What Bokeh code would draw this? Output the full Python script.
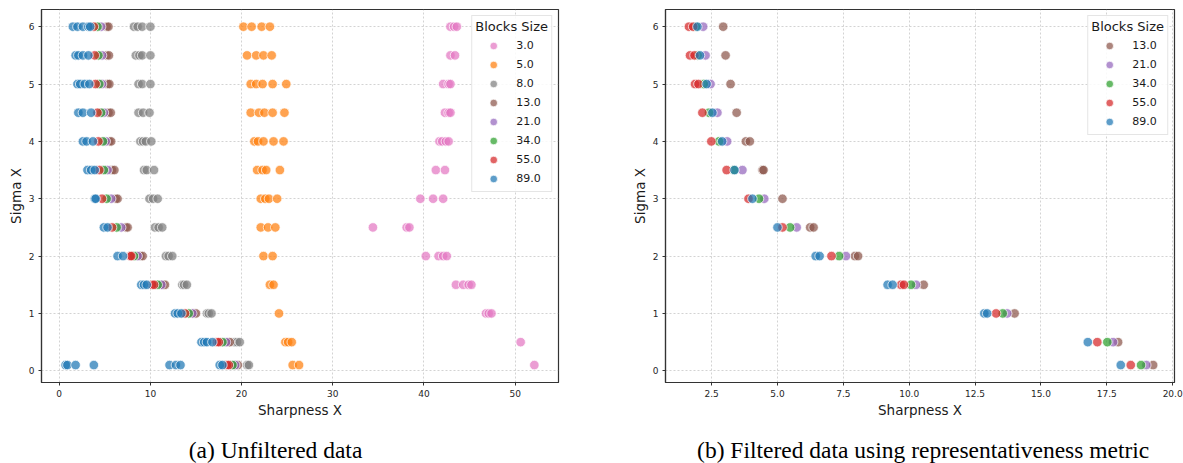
from bokeh.plotting import figure
from bokeh.models import (Range1d, FixedTicker, Legend, LegendItem, Label,
                          NumeralTickFormatter, ColumnDataSource)
from bokeh.layouts import row, column
from bokeh.embed import file_html
from bokeh.resources import INLINE

# ---------------- data ----------------
SIGMA = [0.1, 0.5, 1.0, 1.5, 2.0, 2.5, 3.0, 3.5, 4.0, 4.5, 5.0, 5.5, 6.0]

# (a) Unfiltered data: Sharpness X values for each Sigma X level (order of SIGMA)
UNF_3 = [[52.1], [50.6], [46.8, 47.1, 47.4], [43.5, 44.3, 44.9, 45.2],
         [40.2, 41.6, 42.1, 42.5], [34.4, 38.1, 38.4], [39.6, 41.0, 42.1],
         [41.3, 42.3], [41.7, 42.0, 42.4, 42.7], [42.3, 42.7, 42.9],
         [42.1, 42.7, 42.9], [42.9, 43.4], [42.9, 43.3, 43.6]]
UNF_5 = [[25.6, 26.3], [24.8, 25.1, 25.5], [24.1], [23.1, 23.5], [22.4, 23.4],
         [22.1, 22.9, 23.7], [22.1, 22.6, 23.0, 23.9], [21.7, 22.3, 22.7, 24.2],
         [21.4, 21.8, 22.4, 23.5, 24.6], [21.0, 21.9, 22.5, 23.4, 24.7],
         [21.0, 21.6, 22.3, 23.4, 24.9], [20.6, 21.6, 22.4, 23.3],
         [20.2, 21.1, 22.2, 23.1]]
UNF_8 = [[20.6, 20.8], [19.2, 19.5, 19.8], [16.2, 16.4, 16.7], [13.5, 13.7, 14.0],
         [11.7, 12.0, 12.4], [10.5, 10.9, 11.3], [9.9, 10.3, 10.8], [9.3, 9.6, 10.4],
         [8.9, 9.2, 9.5, 10.1], [8.7, 9.2, 9.9], [8.7, 9.1, 10.0],
         [8.4, 8.8, 9.1, 10.0], [8.2, 8.6, 9.1, 10.0]]
UNF_13 = [[19.3, 19.6], [18.5, 18.7], [14.8, 15.0], [11.4, 11.6], [8.9, 9.15],
          [7.3, 7.5], [6.2, 6.4], [5.8, 6.05], [5.5, 5.7], [5.4, 5.65],
          [5.3, 5.5], [5.2, 5.45], [5.2, 5.4]]
UNF_21 = [[19.3], [18.3], [14.6], [11.2], [8.6], [6.8], [5.7], [5.3], [5.1],
          [4.9], [4.7], [4.7], [4.6]]
UNF_34 = [[19.0], [17.9], [14.2], [10.8], [8.2], [6.3], [5.2], [4.9], [4.8],
          [4.6], [4.4], [4.3], [4.2]]
UNF_55 = [[18.4, 18.6], [17.3, 17.5], [13.8], [10.2, 10.4], [7.8, 7.9], [5.8],
          [4.7], [4.4], [4.3], [4.2], [4.0], [3.9], [3.8]]
UNF_89 = [[0.7, 0.9, 1.8, 3.8, 12.1, 12.8, 13.3, 17.6, 17.9],
          [15.6, 15.9, 16.2, 16.8], [12.7, 13.0, 13.4], [9.0, 9.3, 9.6],
          [6.4, 7.0], [4.9, 5.3], [3.9, 4.0], [3.1, 3.5, 3.9], [2.6, 3.0, 3.7],
          [2.1, 2.6, 3.5], [2.0, 2.3, 2.8, 3.3], [1.8, 2.1, 2.6, 3.2],
          [1.5, 2.0, 2.6, 3.2, 3.4]]

# (b) Filtered data using representativeness metric
FIL_13 = [[19.26], [17.93], [14.0], [10.55], [7.94, 8.06], [6.24, 6.37], [5.19],
          [4.43, 4.47], [3.8, 3.95], [3.45], [3.22], [3.03], [2.94]]
FIL_21 = [[19.0], [17.74], [13.72], [10.26], [7.6], [5.73], [4.5], [3.67], [3.09],
          [2.72], [2.46], [2.27], [2.18]]
FIL_34 = [[18.8], [17.52], [13.55], [10.07], [7.34], [5.48], [4.3], [3.35], [2.78],
          [2.4], [2.2], [1.97], [1.9]]
FIL_55 = [[18.41], [17.14], [13.3], [9.69, 9.8], [7.05], [5.19], [3.9], [3.07],
          [2.49], [2.15], [1.87, 2.0], [1.68, 1.85], [1.64, 1.80]]
FIL_89 = [[18.03], [16.78], [12.85, 12.96], [9.18, 9.37], [6.45, 6.6], [5.0],
          [4.05], [3.37], [2.9], [2.53], [2.31], [2.06], [1.96]]

X_TICKS_A = [0, 10, 20, 30, 40, 50]
X_TICKS_B = [2.5, 5.0, 7.5, 10.0, 12.5, 15.0, 17.5, 20.0]
Y_TICKS = [0, 1, 2, 3, 4, 5, 6]

CAPTION_A = "(a) Unfiltered data"
CAPTION_B = "(b) Filtered data using representativeness metric"

COLORS = {3: "#e377c2", 5: "#ff7f0e", 8: "#7f7f7f", 13: "#8c564b",
          21: "#9467bd", 34: "#2ca02c", 55: "#d62728", 89: "#1f77b4"}

FONT = "DejaVu Sans"


def flatten(rows):
    xs, ys = [], []
    for s, vals in zip(SIGMA, rows):
        for v in vals:
            xs.append(v)
            ys.append(s)
    return xs, ys


def make_panel(width, border_left, border_right, x_range, x_ticks, groups,
               draw_order, legend_order, fmt=None):
    p = figure(width=width, height=420, output_backend="svg",
               toolbar_location=None, x_range=Range1d(*x_range),
               y_range=Range1d(-0.204, 6.30),
               min_border_left=border_left, min_border_right=border_right,
               min_border_top=9, min_border_bottom=38)
    p.background_fill_color = "white"
    p.border_fill_color = "white"
    p.outline_line_color = "#333333"
    p.outline_line_width = 1.2

    for ax in (p.xaxis[0], p.yaxis[0]):
        ax.axis_line_color = "#333333"
        ax.axis_line_width = 1.2
        ax.major_tick_line_color = "#333333"
        ax.major_tick_out = 3
        ax.major_tick_in = 0
        ax.minor_tick_line_color = None
        ax.major_label_text_font = FONT
        ax.major_label_text_font_size = "9px"
        ax.major_label_text_color = "#262626"
        ax.major_label_standoff = 4
        ax.axis_label_text_font = FONT
        ax.axis_label_text_font_size = "13.5px"
        ax.axis_label_text_font_style = "normal"
        ax.axis_label_text_color = "#1a1a1a"
        ax.axis_label_standoff = 2

    p.xaxis.axis_label = "Sharpness X"
    p.yaxis.axis_label = "Sigma X"
    p.xaxis.ticker = FixedTicker(ticks=x_ticks)
    p.yaxis.ticker = FixedTicker(ticks=Y_TICKS)
    if fmt:
        p.xaxis.formatter = NumeralTickFormatter(format=fmt)

    for g in (p.xgrid[0], p.ygrid[0]):
        g.grid_line_color = "#b0b0b0"
        g.grid_line_alpha = 0.7
        g.grid_line_dash = "2 2"
        g.grid_line_width = 0.8
    p.xgrid.ticker = FixedTicker(ticks=x_ticks)
    p.ygrid.ticker = FixedTicker(ticks=Y_TICKS)

    rends = {}
    for bs in draw_order:
        xs, ys = flatten(groups[bs])
        src = ColumnDataSource(dict(x=xs, y=ys))
        rends[bs] = p.scatter("x", "y", source=src, marker="circle", size=9.5,
                              fill_color=COLORS[bs], fill_alpha=0.72,
                              line_color="white", line_width=0.8, line_alpha=0.9)

    items = [LegendItem(label=f"{float(bs):.1f}", renderers=[rends[bs]])
             for bs in legend_order]
    leg = Legend(items=items, location="top_right", margin=6, padding=3,
                 title="Blocks Size", title_text_font=FONT,
                 title_text_font_size="13px", title_text_font_style="normal",
                 title_text_color="#1a1a1a", title_standoff=2,
                 label_text_font=FONT, label_text_font_size="11px",
                 label_text_color="#1a1a1a", label_standoff=5,
                 glyph_width=36, glyph_height=19, label_height=19, spacing=0,
                 border_line_color="#cccccc", border_line_width=1,
                 background_fill_color="white", background_fill_alpha=0.85)
    p.add_layout(leg, "center")
    return p


def make_caption(width, text, center_x):
    c = figure(width=width, height=43, output_backend="svg",
               toolbar_location=None, x_range=Range1d(0, width),
               y_range=Range1d(0, 43), min_border=0, min_border_left=0,
               min_border_right=0, min_border_top=0, min_border_bottom=0)
    c.axis.visible = False
    c.grid.visible = False
    c.outline_line_color = None
    c.background_fill_color = "white"
    c.border_fill_color = "white"
    c.add_layout(Label(x=center_x, y=14, text=text, text_align="center",
                       text_baseline="middle", text_font="Liberation Serif",
                       text_font_size="23.5px", text_color="black"))
    return c


groups_a = {3: UNF_3, 5: UNF_5, 8: UNF_8, 13: UNF_13, 21: UNF_21,
            34: UNF_34, 55: UNF_55, 89: UNF_89}
groups_b = {13: FIL_13, 21: FIL_21, 34: FIL_34, 55: FIL_55, 89: FIL_89}

pa = make_panel(624, 41, 66, (-1.94, 54.75), X_TICKS_A, groups_a,
                [3, 5, 8, 13, 21, 34, 55, 89], [3, 5, 8, 13, 21, 34, 55, 89])
pb = make_panel(559, 41, 9, (0.75, 20.07), X_TICKS_B, groups_b,
                [13, 21, 34, 55, 89], [13, 21, 34, 55, 89], fmt="0.0")
ca = make_caption(624, CAPTION_A, 282.5)
cb = make_caption(559, CAPTION_B, 283)

layout = row(column(pa, ca, spacing=0), column(pb, cb, spacing=0), spacing=0)
open("out.html", "w").write(file_html(layout, INLINE))
